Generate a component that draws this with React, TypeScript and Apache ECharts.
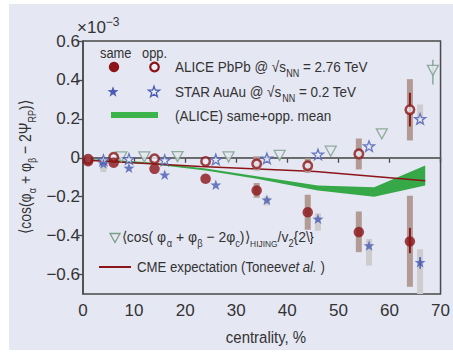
import React, { useEffect, useRef } from "react";
import * as echarts from "echarts";

// ---------- data (units of 1e-3) ----------
const xTicks = [0, 10, 20, 30, 40, 50, 60, 70];
const yTicks = [-0.6, -0.4, -0.2, 0, 0.2, 0.4, 0.6];

const aliceCent = [1, 6, 14, 24, 34, 44, 54, 64];
const aliceSame = [-0.018, -0.025, -0.057, -0.108, -0.168, -0.28, -0.382, -0.43];
const aliceOpp = [-0.008, 0.002, -0.005, -0.019, -0.031, -0.041, 0.02, 0.247];

const starCent = [4, 9, 16, 26, 36, 46, 56, 66];
const starSame = [-0.03, -0.052, -0.087, -0.139, -0.216, -0.314, -0.451, -0.537];
const starOpp = [-0.012, -0.006, -0.012, -0.009, -0.003, 0.017, 0.06, 0.2];

const hijingCent = [7.5, 12, 18.5, 28.5, 38.5, 48.5, 58.5, 68.5];
const hijingVal = [0.004, 0.004, 0.006, 0.004, 0.012, 0.034, 0.123, 0.449];
const hijingErr = [[68.5, 0.377, 0.504]];

// systematic boxes [centrality, low, high]
const aliceSameSys = [[34, -0.205, -0.13], [44, -0.37, -0.19], [54, -0.485, -0.276], [64, -0.663, -0.195]];
const aliceOppSys = [[34, -0.065, 0.008], [44, -0.078, -0.003], [54, -0.06, 0.099], [64, 0.089, 0.404]];
const starSameSys = [[4, -0.074, -0.043], [36, -0.245, -0.2], [46, -0.375, -0.285], [56, -0.554, -0.417], [66, -0.7, -0.47]];
const starOppSys = [[66, 0.171, 0.274]];
// statistical bars [centrality, low, high]
const aliceStat = [[64, -0.49, -0.36], [64, 0.161, 0.334]];
const starStat = [[66, -0.57, -0.51]];

// ALICE same+opp mean band
const bandCent = [1, 6, 14, 24, 34, 46, 57, 67];
const bandUpper = [-0.008, -0.012, -0.025, -0.055, -0.095, -0.142, -0.152, -0.04];
const bandLower = [-0.014, -0.02, -0.034, -0.065, -0.108, -0.168, -0.2, -0.142];

// CME expectation (Toneev et al.)
const cmeCent = [0, 23, 45.5, 67];
const cmeVal = [-0.012, -0.045, -0.07, -0.118];

// ---------- styles ----------
const FR = "'Liberation Sans', Arial, sans-serif";
const TXT = "#333333";
const RED = "#8b1518";
const BLUE = "#4a5db2";
const TRI = "#7a9e86";
const GREEN = "#36a847";
const BG = "#e5e7f3";
const COND = 0.89;

function starPoints(cx: number, cy: number, R: number) {
  const pts: number[][] = [];
  for (let i = 0; i < 10; i++) {
    const r = i % 2 === 0 ? R : R * 0.4;
    const a = -Math.PI / 2 + (i * Math.PI) / 5;
    pts.push([cx + r * Math.cos(a), cy + r * Math.sin(a)]);
  }
  return pts;
}
const STAR_PATH =
  "path://" +
  starPoints(10, 10, 10)
    .map((p, i) => (i === 0 ? "M" : "L") + p[0].toFixed(2) + "," + p[1].toFixed(2))
    .join(" ") +
  " Z";

function boxSeries(data: number[][], color: string, width: number) {
  return {
    type: "custom",
    data,
    encode: { x: 0, y: [1, 2] },
    clip: true,
    z: 4,
    silent: true,
    renderItem: (params: any, api: any) => {
      const p1 = api.coord([api.value(0), api.value(1)]);
      const p2 = api.coord([api.value(0), api.value(2)]);
      return {
        type: "rect",
        shape: { x: p1[0] - width / 2, y: p2[1], width, height: p1[1] - p2[1] },
        style: { fill: color },
      };
    },
  };
}

function barSeries(data: number[][], color: string, width: number, z: number) {
  return {
    type: "custom",
    data,
    encode: { x: 0, y: [1, 2] },
    clip: true,
    z,
    silent: true,
    renderItem: (params: any, api: any) => {
      const p1 = api.coord([api.value(0), api.value(1)]);
      const p2 = api.coord([api.value(0), api.value(2)]);
      return {
        type: "line",
        shape: { x1: p1[0], y1: p1[1], x2: p2[0], y2: p2[1] },
        style: { stroke: color, lineWidth: width },
      };
    },
  };
}

const richBase = {
  t: { fontSize: 15, fontFamily: FR, fill: TXT, lineHeight: 22, verticalAlign: "middle" },
  s: { fontSize: 10, fontFamily: FR, fill: TXT, lineHeight: 11, verticalAlign: "bottom" },
  i: { fontSize: 15, fontFamily: FR, fill: TXT, lineHeight: 22, verticalAlign: "middle", fontStyle: "italic" },
  h: { fontSize: 9, fontFamily: FR, fill: TXT, lineHeight: 10, verticalAlign: "bottom" },
};

function legendText(x: number, y: number, text: string, sx: number = COND) {
  return {
    type: "text",
    x,
    y,
    z: 100,
    scaleX: sx,
    style: { text, rich: richBase, align: "left", verticalAlign: "middle" },
  };
}

export default function App() {
  const ref = useRef<HTMLDivElement>(null);

  useEffect(() => {
    if (!ref.current) return;
    const chart = echarts.init(ref.current, null, { renderer: "svg" });

    const option: any = {
      animation: false,
      backgroundColor: "transparent",
      grid: {
        left: 83,
        top: 41,
        right: 6,
        bottom: 59,
        show: true,
        borderColor: "#4a4a4a",
        borderWidth: 1.5,
        backgroundColor: "transparent",
      },
      xAxis: {
        type: "value",
        min: 0,
        max: 70,
        interval: 10,
        axisLine: { show: true, lineStyle: { color: "#4a4a4a", width: 1.5 } },
        axisTick: { show: true, inside: false, length: 5, lineStyle: { color: "#4a4a4a", width: 1.3 } },
        axisLabel: {
          margin: 8,
          fontSize: 17,
          fontFamily: FR,
          color: TXT,
          formatter: (v: number) => String(v),
        },
        splitLine: { show: false },
      },
      yAxis: {
        type: "value",
        min: -0.7,
        max: 0.6,
        axisLine: { show: true, lineStyle: { color: "#4a4a4a", width: 1.5 } },
        axisTick: {
          show: true,
          inside: false,
          length: 5,
          customValues: yTicks,
          lineStyle: { color: "#4a4a4a", width: 1.3 },
        },
        axisLabel: {
          customValues: yTicks,
          margin: 3,
          fontSize: 17,
          fontFamily: FR,
          color: TXT,
          formatter: (v: number) =>
            Math.abs(v) < 1e-9 ? "0" : (v < 0 ? "\u2212" : "") + Math.abs(v).toFixed(1),
        },
        splitLine: { show: false },
      },
      series: [
        {
          type: "line",
          data: [[0, 0], [70, 0]],
          symbol: "none",
          lineStyle: { color: "#6a6a6a", width: 1.6 },
          z: 1,
          silent: true,
        },
        {
          type: "custom",
          data: bandCent.map((c, i) => [c, bandLower[i], bandUpper[i]]),
          encode: { x: 0, y: [1, 2] },
          z: 2,
          silent: true,
          renderItem: (params: any, api: any) => {
            if (params.dataIndex !== 0) return { type: "group", children: [] };
            const up = bandCent.map((c, i) => api.coord([c, bandUpper[i]]));
            const lo = bandCent.map((c, i) => api.coord([c, bandLower[i]])).reverse();
            return { type: "polygon", shape: { points: up.concat(lo) }, style: { fill: GREEN } };
          },
        },
        {
          type: "line",
          data: cmeCent.map((c, i) => [c, cmeVal[i]]),
          symbol: "none",
          lineStyle: { color: RED, width: 1.5 },
          z: 3,
          silent: true,
        },
        boxSeries(aliceSameSys, "#b29b94", 6),
        boxSeries(aliceOppSys, "#b29b94", 6),
        boxSeries(starSameSys, "#cdcdcf", 6),
        boxSeries(starOppSys, "#cdcdcf", 6),
        barSeries(aliceStat, RED, 2, 5),
        barSeries(starStat, BLUE, 1.5, 5),
        barSeries(hijingErr, TRI, 1.3, 5),
        {
          type: "scatter",
          data: hijingCent.map((c, i) => [c, hijingVal[i]]),
          symbol: "triangle",
          symbolRotate: 180,
          symbolSize: [11, 10],
          itemStyle: { color: BG, borderColor: TRI, borderWidth: 1.3 },
          z: 6,
          silent: true,
        },
        {
          type: "scatter",
          data: starCent.map((c, i) => [c, starOpp[i]]),
          symbol: STAR_PATH,
          symbolKeepAspect: true,
          symbolSize: 11,
          itemStyle: { color: "#eef0f8", borderColor: BLUE, borderWidth: 1.3 },
          z: 7,
          silent: true,
        },
        {
          type: "scatter",
          data: starCent.map((c, i) => [c, starSame[i]]),
          symbol: STAR_PATH,
          symbolKeepAspect: true,
          symbolSize: 11,
          itemStyle: { color: BLUE },
          z: 7,
          silent: true,
        },
        {
          type: "scatter",
          data: aliceCent.map((c, i) => [c, aliceOpp[i]]),
          symbol: "circle",
          symbolSize: 8.5,
          itemStyle: { color: "#eef0f8", borderColor: RED, borderWidth: 2.5 },
          z: 8,
          silent: true,
        },
        {
          type: "scatter",
          data: aliceCent.map((c, i) => [c, aliceSame[i]]),
          symbol: "circle",
          symbolSize: 10.5,
          itemStyle: { color: RED },
          z: 8,
          silent: true,
        },
      ],
      graphic: [
        // x10^-3
        {
          type: "text",
          x: 77,
          y: 27,
          style: {
            text: "{m|\u00d710}{p|\u22123}",
            rich: {
              m: { fontSize: 17, fontFamily: FR, fill: TXT, lineHeight: 22, verticalAlign: "middle" },
              p: { fontSize: 12, fontFamily: FR, fill: TXT, lineHeight: 12, verticalAlign: "top" },
            },
            align: "left",
            verticalAlign: "middle",
          },
        },
        // y axis title
        {
          type: "text",
          x: 25,
          y: 167,
          rotation: Math.PI / 2,
          scaleX: 0.82,
          style: {
            text: "{m|\u27e8cos(\u03c6}{s|\u03b1}{m| + \u03c6}{s|\u03b2}{m| \u2212 2\u03a8}{s|RP}{m|)\u27e9}",
            rich: {
              m: { fontSize: 17, fontFamily: FR, fill: TXT, lineHeight: 26, verticalAlign: "middle" },
              s: { fontSize: 11, fontFamily: FR, fill: TXT, lineHeight: 12, verticalAlign: "bottom" },
            },
            align: "center",
            verticalAlign: "middle",
          },
        },
        // x axis title
        {
          type: "text",
          x: 266,
          y: 337,
          scaleX: 0.88,
          style: {
            text: "centrality, %",
            font: "17px " + FR,
            fill: TXT,
            align: "center",
            verticalAlign: "middle",
          },
        },
        // legend headers
        legendText(100, 53, "{t|same}", 0.86),
        legendText(142, 53, "{t|opp.}", 0.86),
        // legend symbols
        { type: "circle", z: 100, shape: { cx: 114, cy: 67, r: 5.2 }, style: { fill: RED } },
        {
          type: "circle",
          z: 100,
          shape: { cx: 154.5, cy: 67, r: 4.3 },
          style: { fill: "#eef0f8", stroke: RED, lineWidth: 2.2 },
        },
        { type: "polygon", z: 100, shape: { points: starPoints(113, 92, 5.8) }, style: { fill: BLUE } },
        {
          type: "polygon",
          z: 100,
          shape: { points: starPoints(154, 92, 5.8) },
          style: { fill: "#eef0f8", stroke: BLUE, lineWidth: 1.3 },
        },
        { type: "rect", z: 100, shape: { x: 111, y: 112, width: 47, height: 6 }, style: { fill: "#3cb44b" } },
        legendText(175, 67, "{t|ALICE PbPb @ \u221as}{s|NN}{t| = 2.76 TeV}", 0.9),
        legendText(175, 92, "{t|STAR AuAu @ \u221as}{s|NN}{t| = 0.2 TeV}", 0.9),
        legendText(175, 116, "{t|(ALICE) same+opp. mean}", 0.9),
        // HIJING legend
        {
          type: "polygon",
          z: 100,
          shape: { points: [[110, 233.5], [120, 233.5], [115, 242.5]] },
          style: { fill: BG, stroke: TRI, lineWidth: 1.3 },
        },
        legendText(
          122,
          237,
          "{t|\u27e8cos( \u03c6}{s|\u03b1}{t| + \u03c6}{s|\u03b2}{t| \u2212 2\u03c6}{s|c}{t|)\u27e9}{h|HIJING}{t|/v}{s|2}{t|{2\\}}",
          0.93
        ),
        // CME legend
        {
          type: "line",
          z: 100,
          shape: { x1: 99, y1: 267, x2: 131, y2: 267 },
          style: { stroke: RED, lineWidth: 2 },
        },
        legendText(137, 267, "{t|CME expectation (Toneev}{i|et al.}{t| )}", 0.88),
      ],
    };

    chart.setOption(option);
    return () => chart.dispose();
  }, []);

  return (
    <div style={{ position: "absolute", left: 0, top: 0, width: 453, height: 353, background: "#ffffff" }}>
      <div style={{ position: "absolute", left: 9, top: 4, width: 444, height: 346, background: BG }} />
      <div ref={ref} style={{ position: "absolute", left: 0, top: 0, width: 453, height: 353 }} />
    </div>
  );
}
